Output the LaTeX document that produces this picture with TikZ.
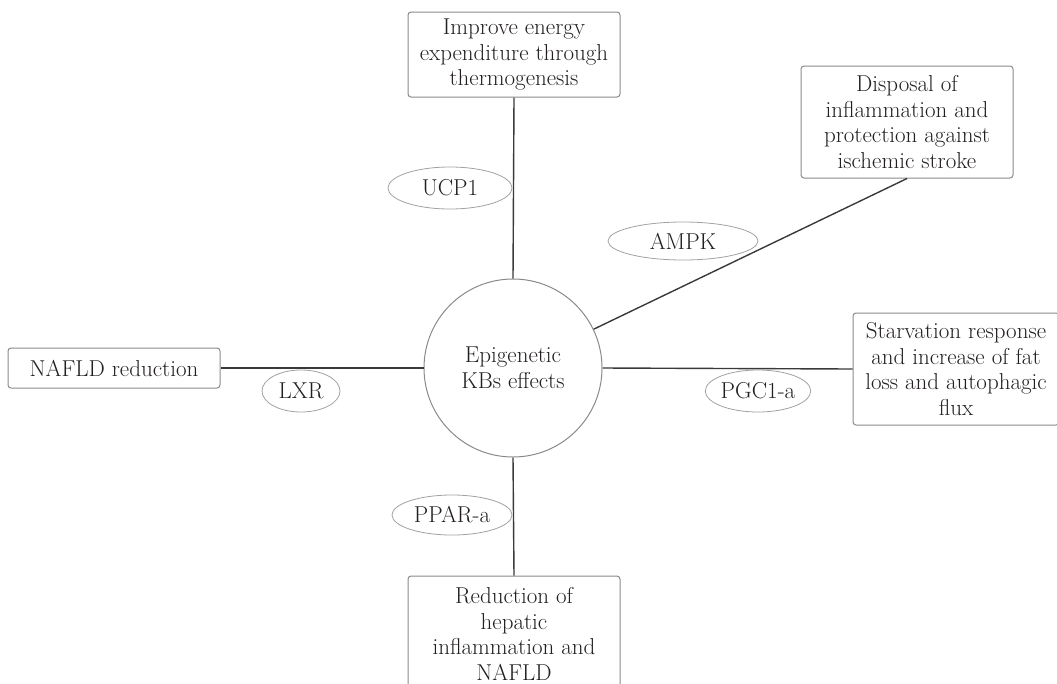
\documentclass[tikz,border=0pt]{standalone}
\usetikzlibrary{shapes.geometric}
\definecolor{boxline}{HTML}{8A8A8A}
\definecolor{conn}{HTML}{3A3A3A}
\definecolor{txt}{HTML}{231F20}
\begin{document}
\begin{tikzpicture}[x=1pt,y=-1pt,
  lbl/.style={font=\fontsize{23}{25.5}\selectfont, text=txt, align=center},
  effbox/.style={lbl, draw=boxline, line width=1pt, rounded corners=3pt, inner sep=0pt},
  gene/.style={lbl, draw=boxline!80, line width=0.8pt, ellipse, inner sep=0pt},
  link/.style={draw=conn, line width=1.4pt}]
\useasboundingbox (0,0) rectangle (1057,683);
\clip (0,0) rectangle (1057,683);
% centre
\node[circle, draw=boxline, line width=1pt, minimum size=178pt, inner sep=0pt, lbl] (c) at (513,368) {Epigenetic\\KBs effects};
% effect boxes
\node[effbox, minimum width=212pt, minimum height=85pt] (top) at (514,54.5) {Improve energy\\expenditure through\\thermogenesis};
\node[effbox, minimum width=212pt, minimum height=112pt] (tr) at (907,122) {Disposal of\\inflammation and\\protection against\\ischemic stroke};
\node[effbox, minimum width=206pt, minimum height=112pt] (r) at (956,369) {Starvation response\\and increase of fat\\loss and autophagic\\flux};
\node[effbox, minimum width=212pt, minimum height=40pt] (l) at (114,368) {NAFLD reduction};
\node[effbox, minimum width=212pt, minimum height=116pt] (b) at (514,634) {Reduction of\\hepatic\\inflammation and\\NAFLD};
% connectors
\draw[link] (c.north) -- (top.south);
\draw[link] (c) -- (tr.south);
\draw[link] (c.east) -- (r.west);
\draw[link] (c.west) -- (l.east);
\draw[link] (c.south) -- (b.north);
% gene labels
\node[gene, minimum width=124pt, minimum height=42pt] (ucp) at (450,188) {UCP1};
\node[gene, minimum width=150pt, minimum height=38pt] (ampk) at (683,241) {AMPK};
\node[gene, minimum width=86pt, minimum height=42pt] (pgc) at (758,391) {PGC1-a};
\node[gene, minimum width=78pt, minimum height=42pt] (lxr) at (301,391) {LXR};
\node[gene, minimum width=120pt, minimum height=40pt] (ppar) at (452,515) {PPAR-a};
\end{tikzpicture}
\end{document}
